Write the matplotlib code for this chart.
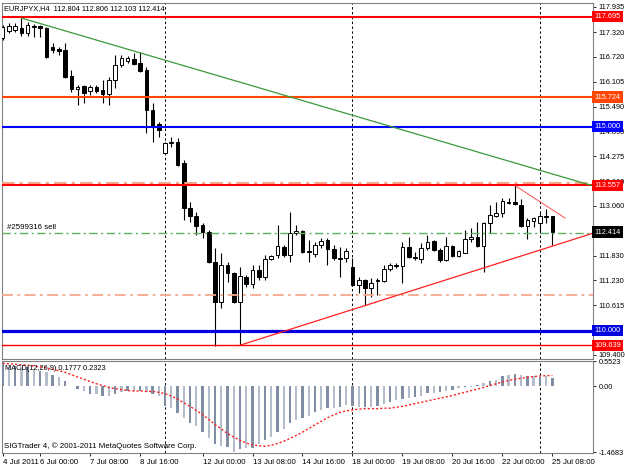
import matplotlib
matplotlib.use('Agg')
import matplotlib.pyplot as plt
import numpy as np
from matplotlib.transforms import blended_transform_factory

# ---------------- data ----------------
opens = [117.175, 117.35, 117.37, 117.41, 117.29, 117.44, 117.47, 117.41, 116.96, 116.90,
         116.88, 116.24, 115.92, 116.00, 115.88, 115.97, 115.90, 115.80, 116.15, 116.51,
         116.61, 116.65, 116.55, 116.39, 115.41, 115.07, 114.36, 114.59, 114.63, 114.11,
         113.00, 112.81, 112.59, 112.42, 111.68, 110.70, 111.61, 111.41, 110.70, 111.31,
         111.14, 111.48, 111.31, 111.75, 111.85, 112.05, 111.85, 112.39, 112.44, 111.95,
         111.88, 112.10, 112.22, 112.00, 111.78, 111.78, 111.56, 111.12, 111.24, 111.04,
         111.24, 111.21, 111.51, 111.61, 111.58, 112.06, 111.81, 111.76, 112.02, 112.20,
         111.98, 111.73, 112.07, 111.83, 111.91, 112.24, 112.30, 112.07, 112.64, 112.81,
         112.88, 113.16, 113.14, 113.08, 112.56, 112.69, 112.63, 112.80, 112.804]
highs = [117.49, 117.54, 117.55, 117.665, 117.57, 117.53, 117.49, 117.45, 117.04, 116.96,
         117.04, 116.39, 116.02, 116.02, 116.02, 116.02, 116.15, 116.23, 116.76, 116.76,
         116.73, 116.80, 116.83, 116.47, 115.58, 115.12, 114.63, 114.75, 114.71, 114.18,
         113.15, 112.91, 112.64, 112.47, 112.02, 111.90, 111.68, 111.44, 111.56, 111.36,
         111.61, 111.61, 111.85, 111.85, 112.59, 112.10, 112.91, 112.59, 112.47, 112.22,
         112.17, 112.27, 112.27, 112.10, 112.05, 112.02, 111.78, 111.31, 111.26, 111.29,
         111.29, 111.61, 111.66, 111.66, 112.18, 112.30, 111.93, 112.15, 112.34, 112.22,
         112.02, 112.30, 112.10, 111.98, 112.47, 112.51, 112.67, 112.67, 113.08, 113.16,
         113.24, 113.24, 113.557, 113.22, 112.75, 112.78, 112.91, 112.98, 112.806]
lows = [117.13, 117.30, 117.33, 117.22, 117.22, 117.21, 117.21, 116.68, 116.80, 116.76,
        116.19, 115.86, 115.53, 115.57, 115.78, 115.82, 115.57, 115.53, 115.94, 116.47,
        116.55, 116.51, 116.35, 114.84, 114.62, 114.75, 114.35, 114.51, 114.04, 112.71,
        112.66, 112.34, 112.27, 111.66, 109.62, 110.55, 111.19, 110.68, 109.639, 111.07,
        111.04, 111.24, 111.24, 111.73, 111.78, 111.80, 111.68, 112.34, 111.90, 111.68,
        111.80, 112.02, 111.61, 111.73, 111.31, 111.68, 111.09, 110.92, 110.63, 110.82,
        110.87, 111.19, 111.46, 111.53, 111.17, 111.78, 111.73, 111.66, 111.97, 111.95,
        111.68, 111.71, 111.80, 111.81, 111.90, 112.18, 112.06, 111.44, 112.39, 112.78,
        112.79, 113.10, 113.08, 112.55, 112.24, 112.55, 112.38, 112.63, 112.103]
closes = [117.445, 117.47, 117.47, 117.30, 117.49, 117.47, 117.42, 116.72, 116.88, 116.86,
          116.23, 115.92, 115.98, 115.83, 115.98, 115.88, 115.80, 116.15, 116.51, 116.68,
          116.68, 116.54, 116.37, 115.41, 114.99, 114.92, 114.59, 114.63, 114.06, 113.00,
          112.81, 112.56, 112.42, 111.68, 110.70, 111.61, 111.41, 110.70, 111.34, 111.14,
          111.48, 111.31, 111.76, 111.83, 112.07, 111.85, 112.39, 112.44, 111.93, 111.93,
          112.10, 112.20, 112.00, 111.78, 111.76, 111.95, 111.12, 111.24, 111.04, 111.17,
          111.21, 111.51, 111.61, 111.58, 112.06, 111.81, 111.78, 112.02, 112.18, 111.98,
          111.73, 112.07, 111.83, 111.96, 112.25, 112.30, 112.07, 112.64, 112.83, 112.88,
          113.18, 113.12, 113.11, 112.56, 112.71, 112.76, 112.81, 112.78, 112.414]

macd_main = [0.55, 0.47, 0.45, 0.43, 0.41, 0.38, 0.34, 0.30, 0.25, 0.20,
             0.10, -0.01, -0.07, -0.11, -0.17, -0.18, -0.22, -0.22, -0.18, -0.13,
             -0.11, -0.11, -0.10, -0.13, -0.17, -0.22, -0.44, -0.48, -0.59, -0.70,
             -0.81, -0.88, -1.01, -1.14, -1.29, -1.32, -1.34, -1.4683, -1.39, -1.38,
             -1.36, -1.29, -1.19, -1.12, -1.01, -0.94, -0.82, -0.75, -0.71, -0.66,
             -0.58, -0.53, -0.49, -0.48, -0.46, -0.43, -0.44, -0.46, -0.47, -0.46,
             -0.44, -0.40, -0.36, -0.30, -0.28, -0.26, -0.24, -0.22, -0.16, -0.15,
             -0.13, -0.10, -0.09, -0.05, -0.03, -0.015, 0.02, 0.06, 0.10, 0.13,
             0.21, 0.24, 0.26, 0.24, 0.22, 0.21, 0.19, 0.21, 0.1777]
macd_signal = [0.50, 0.49, 0.48, 0.47, 0.46, 0.44, 0.42, 0.40, 0.37, 0.34,
               0.30, 0.25, 0.20, 0.15, 0.10, 0.05, 0.01, -0.03, -0.06, -0.08,
               -0.10, -0.11, -0.11, -0.12, -0.12, -0.14, -0.17, -0.22, -0.29, -0.37,
               -0.45, -0.54, -0.63, -0.74, -0.85, -0.95, -1.05, -1.13, -1.20, -1.26,
               -1.30, -1.32, -1.33, -1.31, -1.27, -1.22, -1.16, -1.09, -1.02, -0.94,
               -0.86, -0.78, -0.70, -0.64, -0.58, -0.55, -0.53, -0.51, -0.50, -0.50,
               -0.50, -0.49, -0.49, -0.47, -0.45, -0.42, -0.39, -0.36, -0.33, -0.30,
               -0.27, -0.24, -0.21, -0.17, -0.14, -0.10, -0.07, -0.03, 0.01, 0.05,
               0.09, 0.12, 0.15, 0.17, 0.19, 0.21, 0.22, 0.23, 0.2323]

price_ticks = [117.935, 117.320, 116.720, 116.105, 115.490, 114.890, 114.275, 113.660,
               113.060, 112.445, 111.830, 111.230, 110.615, 110.015, 109.400]
hidden_ticks = [112.445, 110.015]
macd_ticks = [0.5523, 0.0, -1.4683]
macd_tick_labels = ['0.5523', '0.00', '-1.4683']
date_ticks = [0, 6, 14, 22, 32, 40, 48, 56, 64, 72, 80, 88]
date_labels = ['4 Jul 2011', '6 Jul 00:00', '7 Jul 08:00', '8 Jul 16:00', '12 Jul 00:00',
               '13 Jul 08:00', '14 Jul 16:00', '18 Jul 00:00', '19 Jul 08:00',
               '20 Jul 16:00', '22 Jul 00:00', '25 Jul 08:00']
separators = [26, 56, 86]

level_prices = [117.695, 115.724, 115.000, 113.557, 110.000, 109.639]
level_colors = ['#FF0000', '#FF4500', '#0000FF', '#FF0000', '#0000E0', '#FF0000']
level_widths = [1.5, 1.5, 1.5, 1.5, 2.3, 1.0]
order_prices = [113.62, 112.40, 110.87]
order_colors = ['#F6A88C', '#5FAF5F', '#F6A88C']
order_widths = [1.5, 1.0, 1.3]
bid_price = 112.414

green_trend = ([3, 22], [117.665, 116.81])
support_trend = ([38, 88], [109.639, 112.07])
short_trend = ([82, 90], [113.557, 112.76])

title = 'EURJPYX,H4  112.804 112.806 112.103 112.414'
macd_title = 'MACD(12,26,9) 0.1777 0.2323'
footer = 'SIGTrader 4, \u00a9 2001-2011 MetaQuotes Software Corp.'
order_label = '#2599316 sell'

# ---------------- figure ----------------
W, H = 625, 469
FS = 5.3
FSX = 5.7
plt.rcParams['font.family'] = ['Liberation Sans', 'DejaVu Sans']
fig = plt.figure(figsize=(W / 100, H / 100), dpi=100)
fig.patch.set_facecolor('white')

ax = fig.add_axes([2 / W, 1 - 359 / H, 591 / W, 356 / H])
ax2 = fig.add_axes([2 / W, 1 - 453 / H, 591 / W, 92 / H])

xmin, xmax = -0.1, 94.5
for a in (ax, ax2):
    a.set_xlim(xmin, xmax)
    for s in a.spines.values():
        s.set_color('#808080')
        s.set_linewidth(0.8)

ax.set_ylim(109.301, 118.033)
ax2.set_ylim(-1.48, 0.552)

x = np.arange(len(opens))
o = np.array(opens); c = np.array(closes); hi = np.array(highs); lo = np.array(lows)

# candles
ax.vlines(x, lo, hi, color='black', lw=0.8, zorder=3)
body_bottom = np.minimum(o, c)
body_h = np.maximum(np.abs(c - o), 0.015)
body_col = ['white' if cc >= oo else 'black' for oo, cc in zip(o, c)]
ax.bar(x, body_h, bottom=body_bottom, width=0.58, color=body_col,
       edgecolor='black', linewidth=0.7, zorder=4)

# horizontal levels
for p, col, lw in zip(level_prices, level_colors, level_widths):
    ax.axhline(p, color=col, lw=lw, zorder=6)
for p, col, lw in zip(order_prices, order_colors, order_widths):
    ax.axhline(p, color=col, lw=lw, ls=(0, (6, 2.5, 1.5, 2.5)), zorder=5)

# trendlines
gx, gy = green_trend
gslope = (gy[1] - gy[0]) / (gx[1] - gx[0])
ax.plot([gx[0], xmax], [gy[0], gy[0] + gslope * (xmax - gx[0])], color='#3A9A3A', lw=0.9, zorder=6)
sx, sy = support_trend
sslope = (sy[1] - sy[0]) / (sx[1] - sx[0])
ax.plot([sx[0], xmax], [sy[0], sy[0] + sslope * (xmax - sx[0])], color='#FF2020', lw=0.9, zorder=6)
ax.plot(short_trend[0], short_trend[1], color='#FF5050', lw=0.7, zorder=6)

# separators
for a in (ax, ax2):
    for s in separators:
        a.axvline(s, color='black', lw=0.7, ls=(0, (2.5, 2.5)), zorder=2)

# price axis
ax.set_xticks([])
ax.yaxis.tick_right()
ax.set_yticks(price_ticks)
ax.set_yticklabels(['' if v in hidden_ticks else '%.3f' % v for v in price_ticks])
ax.tick_params(axis='y', labelsize=FS, length=2.5, width=0.6, pad=1.5, colors='black')

trans = blended_transform_factory(ax.transAxes, ax.transData)
for p, col in zip(level_prices, level_colors):
    ax.text(1.0025, p, '%.3f' % p, transform=trans, ha='left', va='center', fontsize=FS,
            color='white', clip_on=False, zorder=10,
            bbox=dict(boxstyle='square,pad=0.3', fc=col, ec='none'))
ax.text(1.0025, bid_price, '%.3f' % bid_price, transform=trans, ha='left', va='center',
        fontsize=FS, color='white', clip_on=False, zorder=10,
        bbox=dict(boxstyle='square,pad=0.3', fc='black', ec='none'))

ax.text(0.009, order_prices[1] + 0.03, order_label, transform=trans, ha='left', va='bottom',
        fontsize=FSX, color='black', zorder=7)
fig.text(4 / W, 1 - 8.5 / H, title, ha='left', va='center', fontsize=FS, color='black')

# MACD
hist_cols = ['#7F8EA3' if i % 2 == 0 else '#B4BDCC' for i in range(len(macd_main))]
ax2.bar(x, macd_main, width=0.38, color=hist_cols, zorder=3)
ax2.plot(x, macd_signal, color='#FF2020', lw=1.0, ls=(0, (1.5, 1.5)), zorder=4)
ax2.yaxis.tick_right()
ax2.set_yticks(macd_ticks)
ax2.set_yticklabels(macd_tick_labels)
ax2.tick_params(axis='y', labelsize=FS, length=2.5, width=0.6, pad=1.5, colors='black')
ax2.set_xticks(date_ticks)
ax2.set_xticklabels(date_labels, ha='left')
ax2.tick_params(axis='x', labelsize=FSX, length=2.5, width=0.6, pad=1.5, colors='black')
fig.text(5 / W, 1 - 368 / H, macd_title, ha='left', va='center', fontsize=FS, color='black')
fig.text(4 / W, 1 - 446 / H, footer, ha='left', va='center', fontsize=5.7, color='black')

fig.savefig('out.png', dpi=100, facecolor='white')
